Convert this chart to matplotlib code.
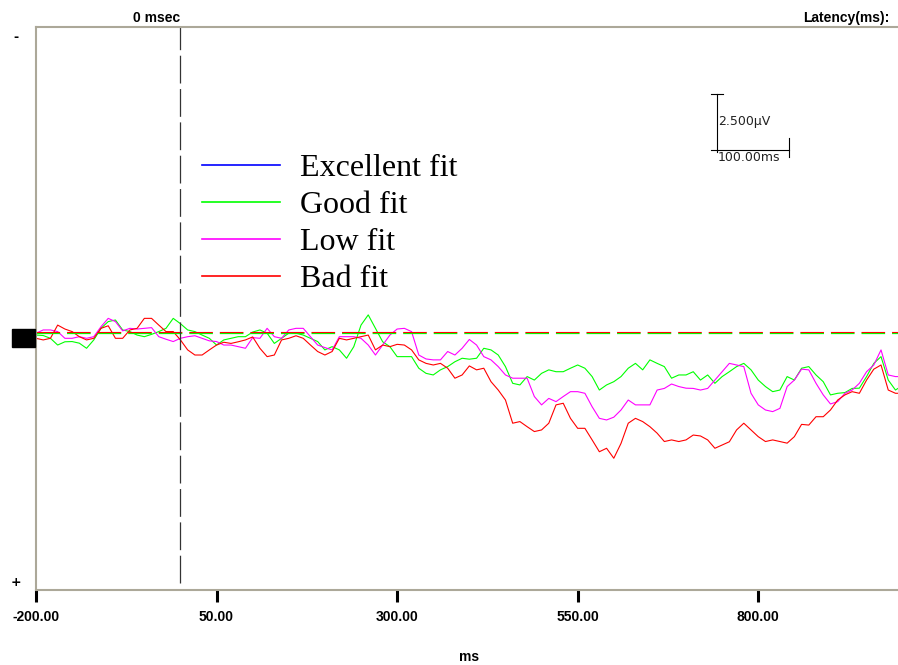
"""
ERP 波形图: 四种拟合程度的平均波形 (负向朝上)
"""

import matplotlib
import matplotlib.pyplot as plt
import matplotlib.transforms as mtransforms
from matplotlib.lines import Line2D
from matplotlib.patches import Rectangle

matplotlib.use("Agg")  # 非交互后端
plt.rcParams["lines.scale_dashes"] = False

# 时间轴 (ms), 每 10 ms 一个读数, 最后一点为右边缘
times = list(range(-200, 1000, 10)) + [994]

# 各条件波形 (µV, 正值朝下), 每行 100 ms
good_fit = [
    0.09, 0.11, 0.23, 0.52, 0.38, 0.37, 0.44, 0.66, 0.30, -0.20,
    -0.49, -0.56, -0.13, -0.06, 0.09, 0.16, 0.06, -0.06, -0.20, -0.63,
    -0.40, -0.13, -0.06, 0.09, 0.23, 0.52, 0.30, 0.23, 0.16, 0.16,
    -0.04, -0.13, 0.01, 0.45, 0.23, 0.01, 0.01, 0.09, 0.23, 0.37,
    0.73, 0.59, 0.73, 1.09, 0.59, -0.34, -0.78, -0.20, 0.38, 0.59,
    1.02, 1.02, 1.02, 1.52, 1.74, 1.81, 1.59, 1.45, 1.24, 1.09,
    1.13, 1.09, 0.66, 0.73, 0.95, 1.45, 2.17, 2.24, 1.88, 2.03,
    1.74, 1.59, 1.67, 1.67, 1.52, 1.38, 1.52, 1.88, 2.46, 2.24,
    2.10, 1.88, 1.52, 1.31, 1.59, 1.16, 1.31, 1.45, 1.95, 1.81,
    1.81, 1.67, 2.03, 1.81, 2.17, 1.88, 1.67, 1.45, 1.31, 1.59,
    2.03, 2.31, 2.53, 2.46, 1.88, 2.03, 1.52, 1.45, 1.81, 2.10,
    2.67, 2.60, 2.57, 2.39, 2.38, 1.88, 1.31, 1.02, 2.03, 2.46,
    2.38,
]
low_fit = [
    0.01, -0.13, -0.13, -0.06, 0.23, 0.23, 0.16, 0.23, 0.16, -0.27,
    -0.63, -0.49, -0.09, -0.20, -0.17, -0.20, -0.23, 0.16, 0.27, 0.37,
    0.23, 0.16, 0.12, 0.23, 0.34, 0.37, 0.52, 0.52, 0.59, 0.66,
    0.20, 0.23, -0.20, 0.16, 0.23, -0.13, -0.20, -0.20, 0.16, 0.52,
    0.63, 0.73, 0.16, 0.16, 0.16, 0.23, 0.52, 0.95, 0.52, 0.09,
    -0.17, -0.20, -0.06, 0.95, 1.12, 1.16, 1.16, 0.80, 0.95, 0.66,
    0.28, 0.52, 1.02, 1.16, 1.45, 1.81, 1.95, 1.95, 1.95, 2.74,
    3.10, 2.82, 2.96, 2.74, 2.53, 2.53, 2.60, 3.18, 3.68, 3.75,
    3.63, 3.32, 2.89, 3.10, 3.10, 3.10, 2.46, 2.39, 2.20, 2.31,
    2.38, 2.39, 2.46, 2.39, 2.03, 1.67, 1.31, 1.38, 1.45, 2.60,
    3.10, 3.32, 3.39, 3.25, 2.31, 2.03, 1.56, 1.59, 2.17, 2.67,
    3.06, 2.96, 2.60, 2.46, 2.17, 1.67, 1.38, 0.73, 1.81, 1.88,
    1.88,
]
bad_fit = [
    0.23, 0.30, 0.23, -0.34, -0.17, -0.06, 0.16, 0.30, 0.23, -0.20,
    -0.31, 0.23, 0.23, -0.13, -0.20, -0.63, -0.63, -0.34, -0.06, -0.06,
    0.30, 0.73, 0.95, 0.95, 0.73, 0.52, 0.40, 0.45, 0.38, 0.30,
    0.17, 0.66, 1.02, 0.95, 0.30, 0.23, 0.12, 0.23, 0.52, 0.80,
    0.95, 0.80, 0.23, 0.30, 0.23, 0.16, 0.09, 0.73, 0.52, 0.59,
    0.49, 0.52, 0.73, 1.16, 1.31, 1.38, 1.31, 1.52, 1.95, 1.81,
    1.42, 1.59, 1.52, 2.10, 2.46, 2.89, 3.89, 3.82, 4.04, 4.25,
    4.18, 3.89, 3.10, 3.03, 3.68, 4.11, 4.11, 4.61, 5.12, 4.97,
    5.40, 4.76, 3.89, 3.68, 3.82, 4.04, 4.32, 4.68, 4.61, 4.68,
    4.61, 4.40, 4.44, 4.61, 4.97, 4.83, 4.69, 4.18, 3.89, 4.18,
    4.47, 4.68, 4.61, 4.68, 4.75, 4.47, 3.94, 3.97, 3.61, 3.61,
    3.32, 2.89, 2.67, 2.53, 2.60, 2.03, 1.56, 1.38, 2.46, 2.60,
    2.60,
]

labels = ["Excellent fit", "Good fit", "Low fit", "Bad fit"]
colors = ["#0000ff", "#00ff00", "#ff00ff", "#ff0000"]
xticks = [-200, 50, 300, 550, 800]

# 比例尺
scale_t = 742.5
scale_top = -10.3
scale_uv = 2.5
scale_ms = 100

frame_color = "#aca899"
label_font = "Liberation Sans"

fig = plt.figure(figsize=(8.98, 6.65), dpi=100)
ax = fig.add_axes([36 / 898, 75 / 665, 862 / 898, 563 / 665])

ax.plot(times, good_fit, color=colors[1], lw=0.8)
ax.plot(times, low_fit, color=colors[2], lw=0.8)
ax.plot(times, bad_fit, color=colors[3], lw=0.8)

# 基线 (绿/红虚线叠放)
ax.axhline(0, color=colors[1], lw=0.9, ls=(0, (17, 5)))
redShift = mtransforms.offset_copy(ax.get_yaxis_transform(), fig=fig, y=0.7, units="points")
ax.plot([0, 1], [0, 0], color=colors[3], lw=0.8, ls=(0, (17, 5)), transform=redShift)

# 0 ms 刺激起始线
ax.axvline(0, ymin=0.012, ymax=1, color="#333333", lw=0.9, ls=(0, (20, 4)))

ax.set_xlim(-200, 993.5)
ax.set_ylim(11.08, -13.19)

# 边框
for side in ["top", "left", "bottom"]:
    ax.spines[side].set_color(frame_color)
    ax.spines[side].set_linewidth(1.5)
ax.spines["right"].set_visible(False)

ax.set_yticks([])
ax.set_xticks(xticks)
ax.set_xticklabels([f"{t:.2f}" for t in xticks], fontweight="bold", fontsize=10, family=label_font)
ax.tick_params(axis="x", direction="out", length=8.6, width=2.2, color="black", pad=6)

# 比例尺
ax.plot([scale_t, scale_t], [scale_top, scale_top + scale_uv], color="black", lw=0.8)
ax.plot([scale_t - 8.5, scale_t + 8.5], [scale_top, scale_top], color="black", lw=0.8)
ax.plot([scale_t - 8.5, scale_t + scale_ms], [scale_top + scale_uv - 0.1] * 2, color="black", lw=0.8)
ax.plot([scale_t + scale_ms] * 2, [scale_top + scale_uv - 0.6, scale_top + scale_uv + 0.2], color="black", lw=0.8)
ax.text(scale_t + 1.5, scale_top + 1.2, f"{scale_uv:.3f}µV", fontsize=9, ha="left", va="center", color="#222222")
ax.text(scale_t + 1.5, scale_top + scale_uv + 0.25, f"{scale_ms:.2f}ms", fontsize=9, ha="left", va="center", color="#222222")

# 图例
handles = [Line2D([], [], color=c, lw=1.2) for c in colors]
ax.legend(
    handles,
    labels,
    loc="upper left",
    bbox_to_anchor=(202 / 898, 1 - 154 / 665),
    bbox_transform=fig.transFigure,
    frameon=False,
    prop={"family": "Liberation Serif", "size": 23},
    handlelength=2.44,
    handletextpad=0.62,
    labelspacing=0.24,
    borderpad=0,
    borderaxespad=0,
)

# 标注文字
ax.annotate("0 msec", xy=(0, 1), xycoords=("data", "axes fraction"), xytext=(0, 6.5),
            textcoords="offset points", ha="right", va="center", fontweight="bold",
            fontsize=10, family=label_font)
fig.text(890 / 898, 1 - 18 / 665, "Latency(ms):", ha="right", va="center", fontweight="bold",
         fontsize=10, family=label_font)
fig.text(469 / 898, 1 - 657 / 665, "ms", ha="center", va="center", fontweight="bold",
         fontsize=10, family=label_font)
fig.text(16 / 898, 1 - 37 / 665, "-", ha="center", va="center", fontweight="bold", fontsize=9)
fig.text(16 / 898, 1 - 582 / 665, "+", ha="center", va="center", fontweight="bold", fontsize=9)

# 通道标记
fig.patches.append(Rectangle((12 / 898, 1 - 347 / 665), 23 / 898, 18 / 665,
                             transform=fig.transFigure, color="black"))

fig.savefig("out.png", dpi=100)
